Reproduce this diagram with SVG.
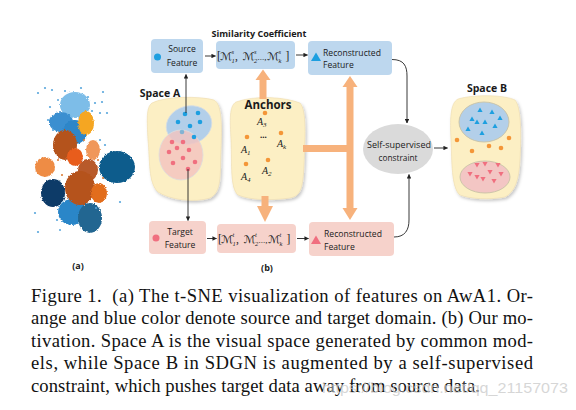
<svg xmlns="http://www.w3.org/2000/svg" width="576" height="410" viewBox="0 0 576 410">
<style>
.lbl{font-family:"Open Sans","Liberation Sans",sans-serif;font-size:8.6px;fill:#1a1a1a}
.bold{font-weight:bold}
.cap{font-family:"Liberation Serif",serif;font-size:18.6px;fill:#111}
.mx{font-family:"Liberation Serif",serif;font-size:11.5px;fill:#222}
.m{font-family:"DejaVu Serif","DejaVu Sans",serif;font-style:italic;font-size:11px}
.dots{font-size:9px}
.ms{font-style:italic;font-size:6.5px}
.blue{fill:#bdd7ee}
.pink{fill:#f6d2cb}
.yel{fill:#fcefc4;stroke:#efdcae;stroke-width:0.6;filter:url(#sh)}
.conn{fill:none;stroke:#222;stroke-width:0.9}
.org{fill:#f7b27c}
.bd{fill:#1d9fe0}
.rd{fill:#f06f7f}
.od{fill:#f49638}
</style>
<defs>
<filter id="sh" x="-20%" y="-20%" width="140%" height="140%"><feDropShadow dx="1.5" dy="2" stdDeviation="1.5" flood-color="#000" flood-opacity="0.22"/></filter>
<filter id="rough" x="-20%" y="-20%" width="140%" height="140%"><feTurbulence type="fractalNoise" baseFrequency="1.3" numOctaves="2" seed="3"/><feDisplacementMap in="SourceGraphic" scale="3" xChannelSelector="R" yChannelSelector="G"/></filter>
<marker id="ah" viewBox="0 0 10 10" refX="9" refY="5" markerWidth="5" markerHeight="5" orient="auto"><path d="M0,0 L10,5 L0,10 Z" fill="#222"/></marker>
<path id="tu" d="M-2.6,2 L2.6,2 L0,-2.6 Z"/>
<path id="td" d="M-2.6,-2 L2.6,-2 L0,2.6 Z"/>
</defs>
<rect width="576" height="410" fill="#fff"/>

<g id="tsne">
<g filter="url(#rough)">
<ellipse cx="75" cy="105" rx="15" ry="13" fill="#7dbde8"/>
<ellipse cx="61" cy="122" rx="12" ry="10" fill="#3a8fd0"/>
<ellipse cx="75" cy="132" rx="12" ry="12" fill="#2d86c8"/>
<ellipse cx="117" cy="167" rx="18" ry="16" fill="#0e5b8c"/>
<ellipse cx="53" cy="193" rx="12" ry="14" fill="#0d3a68"/>
<ellipse cx="72" cy="212" rx="14" ry="13" fill="#2c86c8"/>
<ellipse cx="90" cy="218" rx="12" ry="15" fill="#236691"/>
<ellipse cx="86" cy="123" rx="8" ry="12" fill="#f5a623"/>
<ellipse cx="65" cy="145" rx="12" ry="15" fill="#b4521c"/>
<ellipse cx="93" cy="150" rx="7" ry="10" fill="#f0975a"/>
<ellipse cx="45" cy="167" rx="10" ry="10" fill="#ee8c45"/>
<ellipse cx="88" cy="170" rx="10" ry="11" fill="#b85a2a"/>
<ellipse cx="75" cy="157" rx="8" ry="9" fill="#e85d1c"/>
<ellipse cx="80" cy="188" rx="15" ry="17" fill="#b5521d"/>
<ellipse cx="99" cy="193" rx="8" ry="10" fill="#e26d1c"/>
</g>
<g fill="#5aa7dc">
<circle cx="38" cy="93" r="1.1"/><circle cx="45" cy="88" r="1.1"/><circle cx="52" cy="90" r="1.1"/><circle cx="65" cy="91" r="1.1"/>
<circle cx="81" cy="88" r="1.1"/><circle cx="103" cy="92" r="1.1"/><circle cx="102" cy="102" r="1.1"/><circle cx="107" cy="113" r="1.1"/>
<circle cx="100" cy="113" r="1.1"/><circle cx="50" cy="107" r="1.1"/><circle cx="48" cy="120" r="1.1"/><circle cx="53" cy="130" r="1.1"/>
<circle cx="120" cy="202" r="1.1"/><circle cx="35" cy="213" r="1.1"/><circle cx="38" cy="232" r="1.1"/><circle cx="57" cy="220" r="1.1"/>
<circle cx="95" cy="103" r="1.1"/><circle cx="92" cy="111" r="1.1"/><circle cx="100" cy="140" r="1.1"/><circle cx="105" cy="145" r="1.1"/>
<circle cx="58" cy="100" r="1"/><circle cx="88" cy="97" r="1"/><circle cx="96" cy="208" r="1"/><circle cx="60" cy="230" r="1"/>
</g>
<g fill="#d9762c">
<circle cx="58" cy="160" r="1"/><circle cx="103" cy="178" r="1"/><circle cx="62" cy="175" r="1"/><circle cx="98" cy="160" r="1"/><circle cx="84" cy="140" r="1"/>
</g>
</g>

<g id="spaceA">
<path class="yel" d="M152,103 C165,96 200,96 214,100 C222,104 222,125 221,150 C220,175 222,192 210,198 C195,203 170,200 158,192 C148,183 150,160 148,140 C147,120 146,107 152,103 Z"/>
<ellipse cx="189" cy="125" rx="23" ry="19" transform="rotate(-15 189 125)" fill="#b3cfe9" stroke="#d6dde3" stroke-width="0.8"/>
<ellipse cx="181" cy="155" rx="22" ry="25" fill="#f3c3c0" fill-opacity="0.82" stroke="#ddd" stroke-width="0.8"/>
<g class="bd">
<circle cx="185" cy="114" r="2.3"/><circle cx="198" cy="113" r="2.3"/><circle cx="178" cy="122" r="2.3"/><circle cx="190" cy="126" r="2.3"/>
<circle cx="200" cy="122" r="2.3"/><circle cx="182" cy="132" r="2.3" fill-opacity="0.5"/><circle cx="194" cy="137" r="2.3"/>
</g>
<g class="rd">
<circle cx="172" cy="142" r="2.3"/><circle cx="183" cy="142" r="2.3"/><circle cx="177" cy="148" r="2.3"/><circle cx="189" cy="150" r="2.3"/>
<circle cx="169" cy="152" r="2.3"/><circle cx="183" cy="158" r="2.3"/><circle cx="195" cy="162" r="2.3"/><circle cx="173" cy="163" r="2.3"/><circle cx="188" cy="169" r="2.3"/>
</g>
<text class="lbl bold" x="160" y="97" text-anchor="middle" style="font-size:10.5px">Space A</text>
</g>

<g id="anchors">
<path class="yel" d="M236,102 C255,95 285,97 300,103 C307,110 305,140 304,165 C303,185 302,196 290,198 C270,201 250,200 238,195 C230,188 232,165 231,140 C230,120 229,106 236,102 Z"/>
<text class="lbl bold" x="268" y="109" text-anchor="middle" style="font-size:11.5px">Anchors</text>
<g class="od">
<circle cx="265" cy="113" r="2.3"/><circle cx="281" cy="133" r="2.3"/><circle cx="247" cy="137" r="2.3"/><circle cx="268" cy="160" r="2.3"/><circle cx="246" cy="164" r="2.3"/>
</g>
<g font-family="Liberation Serif,serif" font-style="italic" font-size="10" fill="#222">
<text x="257" y="125">A<tspan font-size="7" dy="2">3</tspan></text>
<text x="260" y="137.5" font-style="normal" font-weight="bold" font-size="9">...</text>
<text x="277" y="147">A<tspan font-size="7" dy="2">k</tspan></text>
<text x="241" y="153">A<tspan font-size="7" dy="2">1</tspan></text>
<text x="262" y="174">A<tspan font-size="7" dy="2">2</tspan></text>
<text x="241" y="180">A<tspan font-size="7" dy="2">4</tspan></text>
</g>
</g>

<g id="spaceB">
<path class="yel" d="M458,99 C475,94 505,95 515,100 C522,108 521,140 520,160 C519,180 515,192 505,197 C490,200 470,199 460,195 C451,188 452,160 451,140 C450,120 450,103 458,99 Z"/>
<ellipse cx="484" cy="122" rx="25" ry="20" fill="#b3cfe9" stroke="#c8c2a6" stroke-width="0.9"/>
<ellipse cx="485" cy="177" rx="25" ry="16" fill="#f3c6c4" stroke="#c8c2a6" stroke-width="0.9"/>
<g fill="#1d9fe0">
<use href="#tu" x="480" y="110"/><use href="#tu" x="492" y="112"/><use href="#tu" x="472" y="119"/><use href="#tu" x="477" y="122"/>
<use href="#tu" x="485" y="122"/><use href="#tu" x="500" y="118"/><use href="#tu" x="495" y="126"/><use href="#tu" x="468" y="129"/><use href="#tu" x="482" y="133"/>
</g>
<g fill="#f06f7f">
<use href="#td" x="477" y="165"/><use href="#td" x="485" y="164"/><use href="#td" x="498" y="165"/><use href="#td" x="470" y="174"/>
<use href="#td" x="490" y="172"/><use href="#td" x="501" y="174"/><use href="#td" x="477" y="177"/><use href="#td" x="483" y="179"/><use href="#td" x="494" y="181"/>
</g>
<g class="od">
<circle cx="457" cy="140" r="2.3"/><circle cx="472" cy="151" r="2.3"/><circle cx="489" cy="146" r="2.3"/><circle cx="501" cy="148" r="2.3"/><circle cx="509" cy="138" r="2.3"/>
</g>
<text class="lbl bold" x="487" y="92" text-anchor="middle" style="font-size:10.5px">Space B</text>
</g>

<g id="sourceFeature">
<rect class="blue" x="151" y="39" width="52" height="34" rx="4"/>
<circle cx="157.5" cy="57" r="3.5" fill="#1d9fe0"/>
<text class="lbl" x="182" y="52" text-anchor="middle">Source</text>
<text class="lbl" x="182" y="65.5" text-anchor="middle">Feature</text>
</g>

<g id="simSource">
<text class="lbl bold" x="259" y="36.5" text-anchor="middle" textLength="95" lengthAdjust="spacingAndGlyphs">Similarity Coefficient</text>
<rect class="blue" x="216" y="41" width="79" height="28" rx="4"/>
<text class="mx" y="60"><tspan x="217">[</tspan><tspan class="m" x="220">ℳ</tspan><tspan class="ms" x="231.5" y="54">s</tspan><tspan class="ms" x="231.5" y="62.5">1</tspan><tspan x="235" y="60">,</tspan><tspan class="m" x="242.5">ℳ</tspan><tspan class="ms" x="254" y="54">s</tspan><tspan class="ms" x="254" y="62.5">2</tspan><tspan class="dots" x="257.5" y="60">...,</tspan><tspan class="m" x="267">ℳ</tspan><tspan class="ms" x="278.5" y="54">s</tspan><tspan class="ms" x="278.5" y="62.5">k</tspan><tspan x="285.5" y="60">]</tspan></text>
</g>

<g id="reconSource">
<rect class="blue" x="308" y="41" width="84" height="34" rx="4"/>
<path d="M311,61 L321,61 L316,52.5 Z" fill="#1d9fe0"/>
<text class="lbl" x="323" y="56">Reconstructed</text>
<text class="lbl" x="323" y="68">Feature</text>
</g>

<g id="targetFeature">
<rect class="pink" x="149" y="221" width="57" height="33" rx="4"/>
<circle cx="156" cy="238" r="3.5" fill="#f06f7f"/>
<text class="lbl" x="180" y="235" text-anchor="middle">Target</text>
<text class="lbl" x="180" y="248" text-anchor="middle">Feature</text>
</g>

<g id="simTarget">
<rect class="pink" x="217" y="224" width="79" height="29" rx="4"/>
<text class="mx" y="243"><tspan x="218">[</tspan><tspan class="m" x="221">ℳ</tspan><tspan class="ms" x="232.5" y="237">t</tspan><tspan class="ms" x="232.5" y="245.5">1</tspan><tspan x="236" y="243">,</tspan><tspan class="m" x="243.5">ℳ</tspan><tspan class="ms" x="255" y="237">t</tspan><tspan class="ms" x="255" y="245.5">2</tspan><tspan class="dots" x="258.5" y="243">...,</tspan><tspan class="m" x="268">ℳ</tspan><tspan class="ms" x="279.5" y="237">t</tspan><tspan class="ms" x="279.5" y="245.5">k</tspan><tspan x="286.5" y="243">]</tspan></text>
</g>

<g id="reconTarget">
<rect class="pink" x="309" y="222" width="85" height="34" rx="4"/>
<path d="M311,244 L321,244 L316,235.5 Z" fill="#f06f7f"/>
<text class="lbl" x="324" y="237">Reconstructed</text>
<text class="lbl" x="324" y="249.5">Feature</text>
</g>

<g id="selfSupervised">
<ellipse cx="398" cy="149" rx="35" ry="25" fill="#dadada"/>
<text class="lbl" x="399" y="148" text-anchor="middle" style="font-size:8.3px" textLength="64" lengthAdjust="spacingAndGlyphs">Self-supervised</text>
<text class="lbl" x="398" y="160.5" text-anchor="middle" style="font-size:8.3px">constraint</text>
</g>

<g id="connectors">
<g class="org">
<rect x="259.5" y="79" width="7" height="20"/><path d="M255.5,80 L270.5,80 L263,69.5 Z"/>
<rect x="261.5" y="196" width="7" height="11"/><path d="M257,206 L273,206 L265,222 Z"/>
<rect x="346.5" y="86" width="7" height="123"/><path d="M342.5,87 L357.5,87 L350,76 Z"/><path d="M342.5,208 L357.5,208 L350,220 Z"/>
<rect x="303" y="145" width="47" height="7"/>
</g>
<line class="conn" x1="186" y1="113" x2="186" y2="74.5" marker-end="url(#ah)"/>
<line class="conn" x1="188" y1="169" x2="188" y2="220.5" marker-end="url(#ah)"/>
<line class="conn" x1="205" y1="56" x2="215.5" y2="56" marker-end="url(#ah)"/>
<line class="conn" x1="296" y1="55" x2="307.5" y2="55" marker-end="url(#ah)"/>
<line class="conn" x1="207" y1="238.5" x2="216.5" y2="238.5" marker-end="url(#ah)"/>
<line class="conn" x1="297" y1="238.5" x2="308.5" y2="238.5" marker-end="url(#ah)"/>
<path class="conn" d="M392,59.5 C404,59.5 407,66 407,76 L407,123" marker-end="url(#ah)"/>
<path class="conn" d="M394,237 C405,237 409,230 409,220 L409,174.5" marker-end="url(#ah)"/>
<line class="conn" x1="434" y1="148" x2="447.5" y2="148" marker-end="url(#ah)"/>
</g>

<text class="lbl bold" x="78" y="268.5" text-anchor="middle" style="font-size:9px">(a)</text>
<text class="lbl bold" x="267" y="270.5" text-anchor="middle" style="font-size:9px">(b)</text>

<g id="caption">
<text class="cap" x="31" y="301.5" textLength="502" lengthAdjust="spacing">Figure 1.&#160; (a) The t-SNE visualization of features on AwA1. Or-</text>
<text class="cap" x="31" y="324" textLength="502" lengthAdjust="spacing">ange and blue color denote source and target domain. (b) Our mo-</text>
<text class="cap" x="31" y="346.5" textLength="502" lengthAdjust="spacing">tivation. Space A is the visual space generated by common mod-</text>
<text class="cap" x="31" y="369" textLength="502" lengthAdjust="spacing">els, while Space B in SDGN is augmented by a self-supervised</text>
<text class="cap" x="31" y="391.5" textLength="449" lengthAdjust="spacing">constraint, which pushes target data away from source data.</text>
</g>
<text x="322" y="393" font-family="Liberation Sans,sans-serif" font-size="15" fill="#c9c9c9" fill-opacity="0.75" textLength="246" lengthAdjust="spacingAndGlyphs">https://blog.csdn.net/qq_21157073</text>
</svg>
